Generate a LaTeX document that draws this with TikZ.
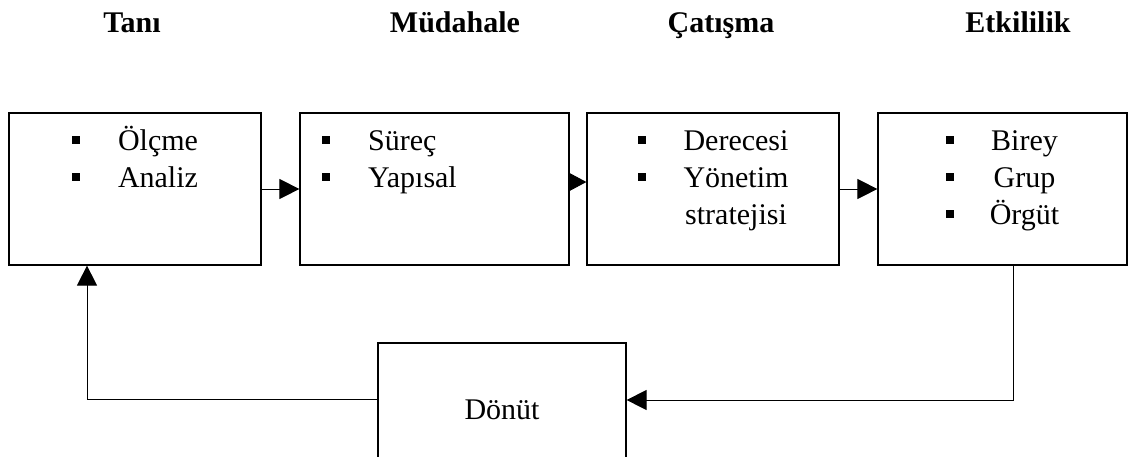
\documentclass[tikz,border=0pt]{standalone}
\usepackage{fontspec}
\setmainfont{Liberation Serif}
\usetikzlibrary{arrows.meta}

% small square bullet
\newcommand{\sqb}{\rule[6pt]{8pt}{8pt}}

\begin{document}
\begin{tikzpicture}[x=1pt,y=-1pt,>={Triangle[length=20pt,width=20pt]},
  stage/.style={draw,line width=1.2pt,inner sep=0pt,text height=37pt,text depth=115pt,
    font=\fontsize{30}{37}\selectfont},
  head/.style={anchor=base,font=\fontsize{30}{36}\selectfont\bfseries},
  link/.style={line width=1pt}]
\useasboundingbox (0,0) rectangle (1128,456);

% headings
\node[head] (htani) at (132,32) {Tanı};
\node[head] (hmud) at (455,32) {Müdahale};
\node[head] (hcat) at (721,32) {Çatışma};
\node[head] (hetk) at (1018,32) {Etkililik};

% stages
\node[stage,minimum width=252pt] (tani) at (135,189) {\begin{tabular}[t]{@{}c@{\hspace{38pt}}c@{}}\sqb & Ölçme\\ \sqb & Analiz\end{tabular}};
\node[stage,minimum width=269pt] (mud) at (434.5,189) {\begin{tabular}[t]{@{}c@{\hspace{38pt}}l@{}}\sqb & Süreç\\ \sqb & Yapısal\end{tabular}\hspace*{90pt}};
\node[stage,minimum width=252pt] (cat) at (713,189) {\begin{tabular}[t]{@{}c@{\hspace{38pt}}c@{}}\sqb & Derecesi\\ \sqb & Yönetim\\ & stratejisi\end{tabular}};
\node[stage,minimum width=249pt] (etk) at (1002.5,189) {\begin{tabular}[t]{@{}c@{\hspace{36pt}}c@{}}\sqb & Birey\\ \sqb & Grup\\ \sqb & Örgüt\end{tabular}};
\node[draw,line width=1.2pt,minimum width=248pt,minimum height=134pt,font=\fontsize{30}{36}\selectfont] (don) at (502,410) {Dönüt};

\coordinate (fbr) at (1013,400);
\coordinate (fbl) at (87,399);

\draw[link,->] (tani.east) -- (mud.west);
\draw[link,-{Triangle[length=18pt,width=19pt]}] ([yshift=7pt]mud.east) -- ([yshift=7pt]cat.west);
\draw[link,->] (cat.east) -- (etk.west);
\draw[link,->] (etk.south -| fbr) |- (don.east |- fbr);
\draw[link,->] (don.west |- fbl) -| (tani.south -| fbl);
\end{tikzpicture}
\end{document}
